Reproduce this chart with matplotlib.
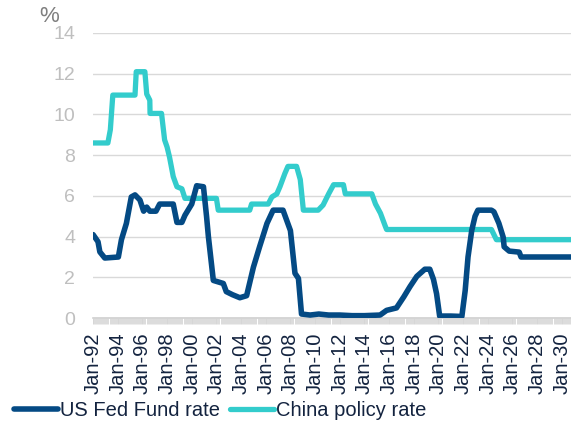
import numpy as np
import matplotlib
matplotlib.use("Agg")
import matplotlib.pyplot as plt

# --- DATA (decimal years) ---
us_years = [1992.0, 1992.4, 1992.55, 1992.95, 1994.05, 1994.3, 1994.7, 1995.1, 1995.4,
            1995.8, 1996.1, 1996.35, 1996.6, 1997.1, 1997.4, 1998.5, 1998.8, 1999.2,
            1999.45, 2000.0, 2000.4, 2000.95, 2001.2, 2001.35, 2001.75, 2002.56, 2002.8,
            2003.3, 2003.9, 2004.45, 2005.0, 2005.5, 2006.1, 2006.6, 2007.4, 2008.0,
            2008.37, 2008.65, 2008.9, 2009.6, 2010.3, 2011.1, 2012.0, 2013.0, 2014.0,
            2015.27, 2015.8, 2016.6, 2017.2, 2017.7, 2018.25, 2018.9, 2019.3, 2019.6,
            2019.85, 2020.1, 2021.0, 2021.9, 2022.17, 2022.4, 2022.7, 2022.97, 2023.2,
            2024.3, 2024.5, 2024.9, 2025.25, 2025.33, 2025.74, 2026.55, 2026.7, 2030.75]
us_rate = [4.1, 3.75, 3.25, 2.95, 3.0, 3.85, 4.65, 5.95, 6.05,
           5.8, 5.25, 5.45, 5.25, 5.25, 5.6, 5.6, 4.7, 4.7,
           5.05, 5.6, 6.5, 6.45, 5.0, 4.0, 1.85, 1.7, 1.3,
           1.15, 1.0, 1.1, 2.5, 3.5, 4.65, 5.3, 5.3, 4.3,
           2.2, 1.95, 0.2, 0.15, 0.2, 0.15, 0.15, 0.12, 0.12,
           0.15, 0.38, 0.5, 1.05, 1.55, 2.05, 2.4, 2.4, 1.9,
           1.2, 0.1, 0.1, 0.08, 1.35, 3.0, 4.3, 5.0, 5.3,
           5.3, 5.22, 4.66, 3.98, 3.5, 3.29, 3.24, 3.0, 3.0]

cn_years = [1992.0, 1993.2, 1993.4, 1993.6, 1995.4, 1995.5, 1996.2, 1996.35, 1996.6,
            1996.62, 1997.55, 1997.8, 1998.0, 1998.2, 1998.5, 1998.8, 1999.2, 1999.45,
            2002.0, 2002.15, 2004.7, 2004.85, 2006.2, 2006.5, 2006.9, 2007.15, 2007.55,
            2007.8, 2008.5, 2008.8, 2009.05, 2010.25, 2010.65, 2011.1, 2011.5, 2012.3,
            2012.45, 2014.6, 2014.9, 2015.3, 2015.7, 2015.8, 2024.3, 2024.7, 2030.75]
cn_rate = [8.6, 8.6, 9.25, 10.95, 10.95, 12.1, 12.1, 11.0, 10.7,
           10.05, 10.05, 8.75, 8.4, 7.9, 6.95, 6.45, 6.35, 5.88,
           5.88, 5.3, 5.3, 5.6, 5.6, 5.95, 6.1, 6.45, 7.1,
           7.45, 7.45, 6.8, 5.3, 5.3, 5.55, 6.1, 6.55, 6.55,
           6.1, 6.1, 5.6, 5.15, 4.5, 4.35, 4.35, 3.85, 3.85]

tick_years = list(range(1992, 2031, 2))
tick_labels = [f"Jan-{y % 100:02d}" for y in tick_years]
y_ticks = [0, 2, 4, 6, 8, 10, 12, 14]

NAVY = "#044a84"
TEAL = "#33cccc"
LABEL = "#13233f"

plt.rcParams["font.family"] = ["Liberation Sans", "DejaVu Sans"]

fig = plt.figure(figsize=(5.71, 4.23), dpi=100)
ax = fig.add_axes([0.163, 0.248, 0.837, 0.674])

ax.plot(us_years, us_rate, color=NAVY, lw=4.0, solid_capstyle="round",
        solid_joinstyle="round", label="US Fed Fund rate", zorder=3)
ax.plot(cn_years, cn_rate, color=TEAL, lw=3.8, solid_capstyle="round",
        solid_joinstyle="round", label="China policy rate", zorder=2)

ax.set_xlim(1992, 2030.75)
ax.set_ylim(0, 14)

ax.set_yticks(y_ticks)
ax.yaxis.grid(True, color="#d9d9d9", lw=1.0)
ax.set_axisbelow(True)
ax.tick_params(axis="y", length=0, pad=13, labelsize=14, labelcolor="#bfbfbf")

ax.set_xticks(tick_years)
ax.set_xticklabels(tick_labels, rotation=90)
ax.set_xticks(np.arange(1992, 2030.75, 1 / 12), minor=True)
ax.tick_params(axis="x", which="major", length=4.5, width=0.6, color="#cfcfcf",
               pad=6, labelsize=14.5, labelcolor=LABEL)
ax.tick_params(axis="x", which="minor", length=4.5, width=0.6, color="#d6d6d6")

for s in ["top", "right", "left"]:
    ax.spines[s].set_visible(False)
ax.spines["bottom"].set_color("#d0d0d0")
ax.spines["bottom"].set_linewidth(1.2)

fig.text(0.068, 0.985, "%", fontsize=16, color="#7f7f7f", ha="left", va="top")

fig.legend(loc="center left", bbox_to_anchor=(0.024, 0.029), ncol=2, frameon=False,
           fontsize=14.5, handlelength=2.2, handletextpad=0.1, columnspacing=0.5,
           borderaxespad=0, borderpad=0, labelcolor=LABEL)

fig.savefig("out.png", dpi=100)
